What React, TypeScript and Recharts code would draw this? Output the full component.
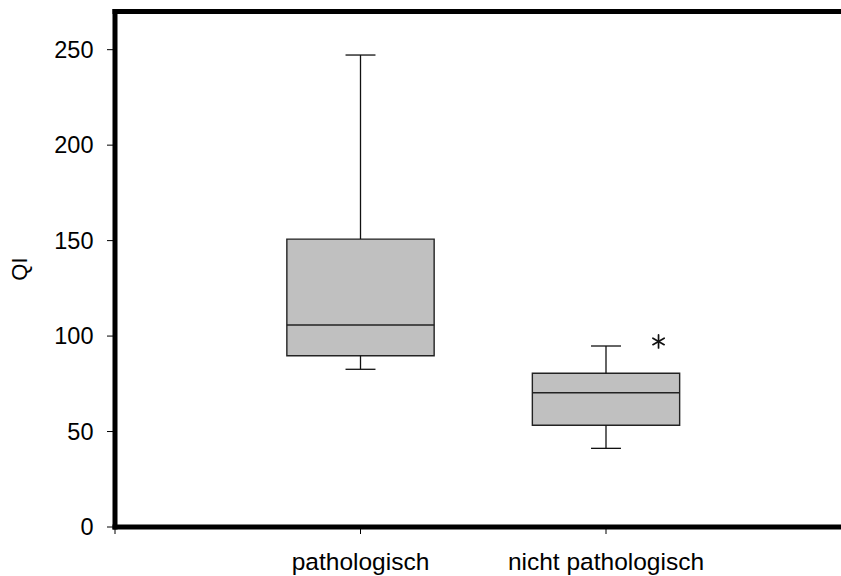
import React from 'react';
import {
  ComposedChart,
  XAxis,
  YAxis,
  Scatter,
  ReferenceArea,
  ReferenceLine,
} from 'recharts';

// box plot statistics, one entry per group
const categories = ['pathologisch', 'nicht pathologisch'];
const positions = [1, 2];
const mins = [82.6, 41.2];
const q1s = [89.7, 53.3];
const medians = [105.8, 70.3];
const q3s = [150.8, 80.5];
const maxs = [247.2, 94.8];

// outlier marked with an asterisk
const outliers = [{ x: 2.214, y: 97.2 }];

const yTicks = [0, 50, 100, 150, 200, 250];
const xTicks = [0, 1, 2, 3];

const font = '"Liberation Sans", Arial, sans-serif';
const boxHalf = 0.3;
const capHalf = 0.061;

const Asterisk = (props: any) => {
  const { cx, cy } = props;
  const r = 6.5;
  const lines = [90, 30, 150].map((deg) => {
    const a = (deg * Math.PI) / 180;
    return (
      <line
        key={deg}
        x1={cx - r * Math.cos(a)}
        y1={cy - r * Math.sin(a)}
        x2={cx + r * Math.cos(a)}
        y2={cy + r * Math.sin(a)}
        stroke="#111"
        strokeWidth={1.7}
        strokeLinecap="round"
      />
    );
  });
  return <g>{lines}</g>;
};

const xLabel = (v: number) => {
  const i = positions.indexOf(v);
  return i >= 0 ? categories[i] : '';
};

export default function App() {
  return (
    <div style={{ position: 'absolute', left: 0, top: 0, width: 841, height: 576, overflow: 'hidden', background: '#fff' }}>
      <ComposedChart width={860} height={576} margin={{ top: 11.5, right: 8.5, left: 0, bottom: 0 }}>
        <XAxis
          type="number"
          dataKey="x"
          domain={[0, 3]}
          ticks={xTicks}
          allowDataOverflow
          tickFormatter={xLabel}
          height={49}
          tickSize={7}
          tickMargin={19}
          axisLine={{ stroke: '#000', strokeWidth: 5, strokeLinecap: 'square' }}
          tickLine={{ stroke: '#000', strokeWidth: 1 }}
          tick={{ fill: '#000', fontSize: 24.5, fontFamily: font }}
        />
        <YAxis
          type="number"
          dataKey="y"
          domain={[0, 270]}
          ticks={yTicks}
          allowDataOverflow
          width={115}
          tickSize={8}
          tickMargin={13.5}
          axisLine={{ stroke: '#000', strokeWidth: 5, strokeLinecap: 'square' }}
          tickLine={{ stroke: '#000', strokeWidth: 1 }}
          tick={{ fill: '#000', fontSize: 23.5, fontFamily: font }}
          label={{
            content: () => (
              <text
                x={19}
                y={269}
                transform="rotate(-90 19 269)"
                textAnchor="middle"
                dominantBaseline="central"
                fontSize={22}
                fontFamily={font}
                fill="#000"
              >
                QI
              </text>
            ),
          }}
        />
        <ReferenceLine y={270} stroke="#000" strokeWidth={5} strokeLinecap="square" ifOverflow="visible" />

        {positions.map((p, i) => (
          <React.Fragment key={categories[i]}>
            <ReferenceLine segment={[{ x: p, y: q3s[i] }, { x: p, y: maxs[i] }]} stroke="#111" strokeWidth={1.3} />
            <ReferenceLine segment={[{ x: p, y: mins[i] }, { x: p, y: q1s[i] }]} stroke="#111" strokeWidth={1.3} />
            <ReferenceLine segment={[{ x: p - capHalf, y: maxs[i] }, { x: p + capHalf, y: maxs[i] }]} stroke="#111" strokeWidth={1.3} />
            <ReferenceLine segment={[{ x: p - capHalf, y: mins[i] }, { x: p + capHalf, y: mins[i] }]} stroke="#111" strokeWidth={1.3} />
            <ReferenceArea
              x1={p - boxHalf}
              x2={p + boxHalf}
              y1={q1s[i]}
              y2={q3s[i]}
              fill="#c0c0c0"
              fillOpacity={1}
              stroke="#222"
              strokeWidth={1.4}
            />
            <ReferenceLine segment={[{ x: p - boxHalf, y: medians[i] }, { x: p + boxHalf, y: medians[i] }]} stroke="#222" strokeWidth={1.4} />
          </React.Fragment>
        ))}

        <Scatter data={outliers} dataKey="y" shape={<Asterisk />} isAnimationActive={false} />
      </ComposedChart>
    </div>
  );
}
